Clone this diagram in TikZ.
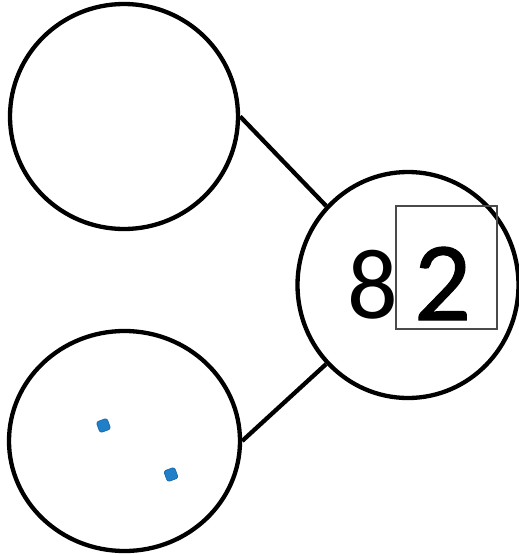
\documentclass[tikz,border=0pt]{standalone}
\usepackage{fontspec}
\newfontfamily\carlito{Carlito}
\newfontfamily\carlitoheavy[FakeBold=0.9]{Carlito}
\usetikzlibrary{shapes.geometric}
\definecolor{cubeblue}{HTML}{1F7FC8}
\definecolor{boxgray}{HTML}{4A4A4A}
\tikzset{
  bubble/.style={draw=black, line width=4.3pt, ellipse, inner sep=0pt},
  link/.style={draw=black, line width=4.3pt},
  cubedot/.style={fill=cubeblue, draw=cubeblue!80!black, line width=0.6pt, rounded corners=2.5pt, minimum size=11.5pt, inner sep=0pt, rotate=20},
  digit/.style={inner sep=0pt, font=\carlito\fontsize{100}{100}\selectfont},
  answerbox/.style={draw=boxgray, line width=1.3pt, inner sep=0pt, minimum width=101pt, minimum height=123pt}
}
\begin{document}
\begin{tikzpicture}[x=1pt,y=-1pt]
\useasboundingbox (0,0) rectangle (519,554);
\node[bubble, minimum width=228pt, minimum height=225pt] (tl) at (124,116.5) {};
\node[bubble, minimum width=231pt, minimum height=220pt] (bl) at (124.5,441) {};
\node[bubble, minimum width=221pt, minimum height=226pt] (r) at (408,285) {};
\draw[link] (tl.east) -- (r.136);
\draw[link] (bl.east) -- (r.224);
\node[answerbox] (box) at (446.5,267.5) {};
\node[digit] (eight) at (373,284.5) {8};
\node[digit, font=\carlitoheavy\fontsize{113}{113}\selectfont] (two) at (442.5,283.5) {2};
\node[cubedot] (c1) at (103.5,425.5) {};
\node[cubedot] (c2) at (171,474.5) {};
\end{tikzpicture}
\end{document}
